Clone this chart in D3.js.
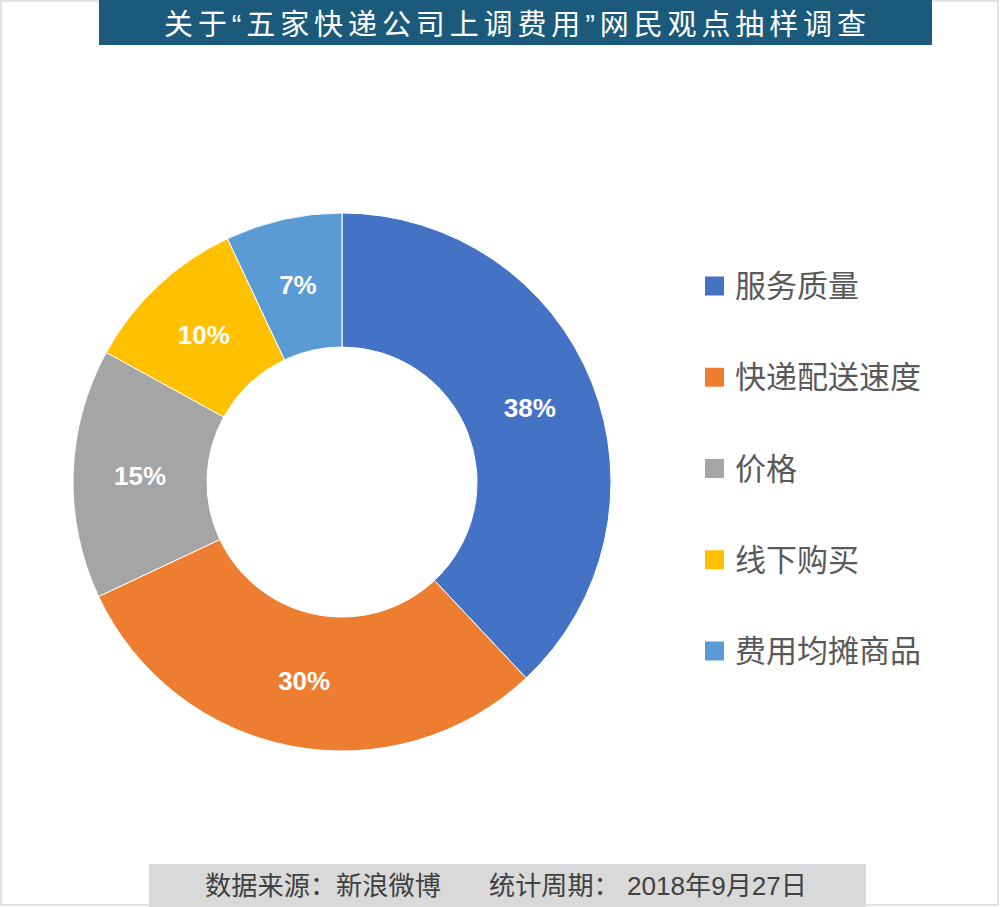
<!DOCTYPE html>
<html>
<head>
<meta charset="utf-8">
<script src="https://cdn.jsdelivr.net/npm/d3@7"></script>
<style>
  body { margin: 0; background: #fff; }
  svg { display: block; }
</style>
</head>
<body>
<div id="chart"></div>
<script>
// donnees du sondage
var categories = ["服务质量", "快递配送速度", "价格", "线下购买", "费用均摊商品"];
var values = [38, 30, 15, 10, 7];
var colors = ["#4472C4", "#ED7D31", "#A5A5A5", "#FFC000", "#5B9BD5"];
var titre = "关于“五家快递公司上调费用”网民观点抽样调查";
var source = "数据来源：新浪微博";
var periode = "统计周期： 2018年9月27日";

var W = 1000, H = 907;
var font = "'Noto Sans CJK SC', 'Noto Sans', sans-serif";
var fontMix = "'Liberation Sans', 'Noto Sans CJK SC', sans-serif";

var svg = d3.select('#chart').append('svg').attr('width', W).attr('height', H);

// cadre exterieur
svg.append('rect')
    .attr('x', 1).attr('y', 1)
    .attr('width', W - 3).attr('height', H - 3)
    .style('fill', '#fff').style('stroke', '#d9d9d9').style('stroke-width', 1.5);

// bandeau du titre
svg.append('rect')
    .attr('x', 99).attr('y', 0).attr('width', 833).attr('height', 45)
    .style('fill', '#1b5a7a');
svg.append('text')
    .attr('x', 515).attr('y', 35)
    .attr('text-anchor', 'middle')
    .attr('textLength', 702).attr('lengthAdjust', 'spacing')
    .style('font-family', fontMix).style('font-size', '29px')
    .style('fill', '#fff')
    .text(titre);

// donut
var cx = 342, cy = 482, rOut = 269, rIn = 135;
var color = d3.scaleOrdinal().domain(categories).range(colors);
var pie = d3.pie().sort(null).value(function(d){ return d; });
var arc = d3.arc().innerRadius(rIn).outerRadius(rOut);
var arcs = pie(values);

var g = svg.append('g').attr('transform', 'translate(' + cx + ',' + cy + ')');
g.selectAll('path.slice').data(arcs).enter().append('path')
    .attr('class', 'slice')
    .attr('d', arc)
    .style('fill', function(d, i){ return color(categories[i]); })
    .style('stroke', '#fff').style('stroke-width', 1);

g.selectAll('text.lbl').data(arcs).enter().append('text')
    .attr('class', 'lbl')
    .attr('transform', function(d){ return 'translate(' + arc.centroid(d) + ')'; })
    .attr('text-anchor', 'middle').attr('dy', '0.36em')
    .style('font-family', "'Liberation Sans', Arial, sans-serif")
    .style('font-size', '26px').style('font-weight', 'bold')
    .style('fill', '#fff')
    .text(function(d){ return d.data + '%'; });

// legende
var legY = d3.scalePoint().domain(categories).range([286, 651]);
var leg = svg.selectAll('g.leg').data(categories).enter().append('g')
    .attr('class', 'leg')
    .attr('transform', function(d){ return 'translate(705,' + legY(d) + ')'; });
leg.append('rect')
    .attr('x', 0).attr('y', -9.5).attr('width', 19).attr('height', 19)
    .style('fill', function(d){ return color(d); });
leg.append('text')
    .attr('x', 30).attr('dy', '0.36em')
    .style('font-family', font).style('font-size', '31px')
    .style('fill', '#595959')
    .text(function(d){ return d; });

// pied de page
svg.append('rect')
    .attr('x', 149).attr('y', 864).attr('width', 717).attr('height', 43)
    .style('fill', '#d9d9d9');
var foot = svg.append('text')
    .attr('y', 895)
    .style('font-family', fontMix).style('font-size', '26px')
    .style('fill', '#404040');
foot.append('tspan').attr('x', 205).attr('textLength', 236).attr('lengthAdjust', 'spacingAndGlyphs').text(source);
foot.append('tspan').attr('x', 489).attr('textLength', 318).attr('lengthAdjust', 'spacingAndGlyphs').text(periode);
</script>
</body>
</html>
